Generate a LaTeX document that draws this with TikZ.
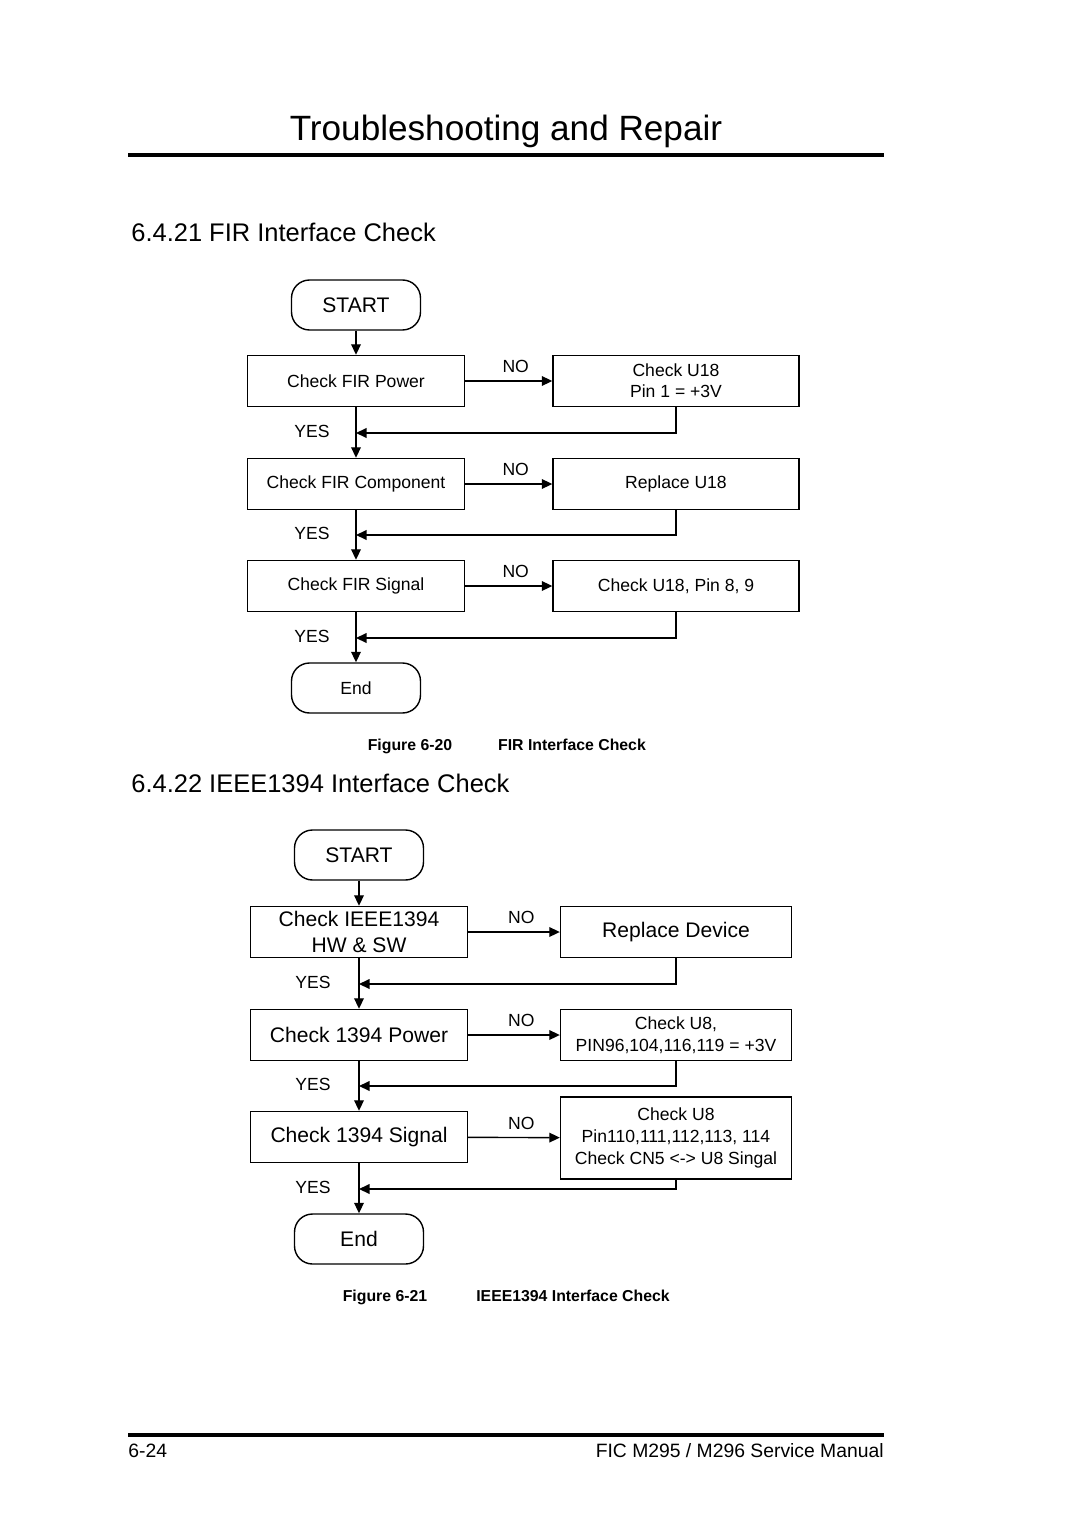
\documentclass[tikz,border=0pt]{standalone}
\usepackage{fontspec}
\setmainfont{Liberation Sans}
\usetikzlibrary{arrows.meta}

\tikzset{
  chk/.style={draw, line width=0.8pt, minimum width=4.34cm, minimum height=1.02cm, inner sep=1pt, align=center},
  act/.style={chk, minimum width=4.92cm},
  term/.style={draw, line width=0.8pt, rounded corners=0.36cm, minimum width=2.58cm, minimum height=1.0cm, align=center},
  flow/.style={line width=0.8pt, -{Triangle[length=6pt,width=5.5pt]}},
  figcap/.style={anchor=base, font=\fontsize{9}{11}\selectfont\bfseries},
}

\begin{document}
\begin{tikzpicture}[x=0.02cm,y=-0.02cm]
  \useasboundingbox (0,0) rectangle (1080,1527);
  % page header
  \node (title) at (506,131) {\fontsize{20}{24}\selectfont Troubleshooting and Repair};
  \draw[line width=2.2pt] (128,155) -- (884,155);

  % 6.4.21
  \node[anchor=west, inner sep=0pt] (sec1) at (131,232) {\fontsize{14.5}{17}\selectfont 6.4.21 FIR Interface Check};
  \begin{scope}[font=\fontsize{10}{12}\selectfont]
    \node[term, font=\fontsize{12}{14}\selectfont] (start1) at (356,305) {START};
    \node[chk] (pwr1) at (356,381) {Check FIR Power};
    \node[act] (u18a) at (676,381) {Check U18\\Pin 1 = +3V};
    \node[chk] (comp1) at (356,484) {Check FIR Component};
    \node[act] (u18b) at (676,484) {Replace U18};
    \node[chk] (sig1) at (356,586) {Check FIR Signal};
    \node[act] (u18c) at (676,586) {Check U18, Pin 8, 9};
    \node[term] (end1) at (356,688) {End};
    \draw[flow] (start1) -- (pwr1);
    \foreach \a/\b/\c/\y in {pwr1/u18a/comp1/433, comp1/u18b/sig1/535, sig1/u18c/end1/638}
    {
      \draw[flow] (\a) -- node[above=1pt, pos=0.58] {NO} (\b);
      \draw[flow] (\a) -- (\c);
      \draw[flow] (\b.south) |- (\a |- 0,\y);
      \node at (312,\y-2) {YES};
    }
  \end{scope}
  \node[figcap] (fig20) at (410,750) {Figure 6-20};
  \node[figcap] (fig20t) at (572,750) {FIR Interface Check};

  % 6.4.22
  \node[anchor=west, inner sep=0pt] (sec2) at (131,783) {\fontsize{14.5}{17}\selectfont 6.4.22 IEEE1394 Interface Check};
  \begin{scope}[font=\fontsize{12}{15}\selectfont, act/.append style={minimum width=4.62cm}]
    \node[term] (start2) at (359,855) {START};
    \node[chk] (hw) at (359,932) {Check IEEE1394\\HW \& SW};
    \node[act] (dev) at (676,932) {Replace Device};
    \node[chk] (pwr2) at (359,1035) {Check 1394 Power};
    \node[act, font=\fontsize{10}{12.5}\selectfont] (u8a) at (676,1035) {Check U8,\\PIN96,104,116,119 = +3V};
    \node[chk] (sig2) at (359,1137) {Check 1394 Signal};
    \node[act, minimum height=1.64cm, font=\fontsize{10}{12.5}\selectfont] (u8b) at (676,1138)
      {Check U8\\Pin110,111,112,113, 114\\Check CN5 <-> U8 Singal};
    \node[term] (end2) at (359,1239) {End};
    \draw[flow] (start2) -- (hw);
    \foreach \a/\b/\c/\y in {hw/dev/pwr2/984, pwr2/u8a/sig2/1086, sig2/u8b/end2/1189}
    {
      \draw[flow] (\a) -- node[above=1pt, pos=0.58, font=\fontsize{10}{12}\selectfont] {NO} (\b);
      \draw[flow] (\a) -- (\c);
      \draw[flow] (\b.south) |- (\a |- 0,\y);
      \node[font=\fontsize{10}{12}\selectfont] at (313,\y-2) {YES};
    }
  \end{scope}
  \node[figcap] (fig21) at (385,1301) {Figure 6-21};
  \node[figcap] (fig21t) at (573,1301) {IEEE1394 Interface Check};

  % page footer
  \draw[line width=1.8pt] (128,1435) -- (884,1435);
  \node[anchor=west, inner sep=0pt] (page) at (128,1451) {\fontsize{11}{13}\selectfont 6-24};
  \node[anchor=east, inner sep=0pt] (manual) at (884,1451) {\fontsize{11}{13}\selectfont FIC M295 / M296 Service Manual};
\end{tikzpicture}
\end{document}
